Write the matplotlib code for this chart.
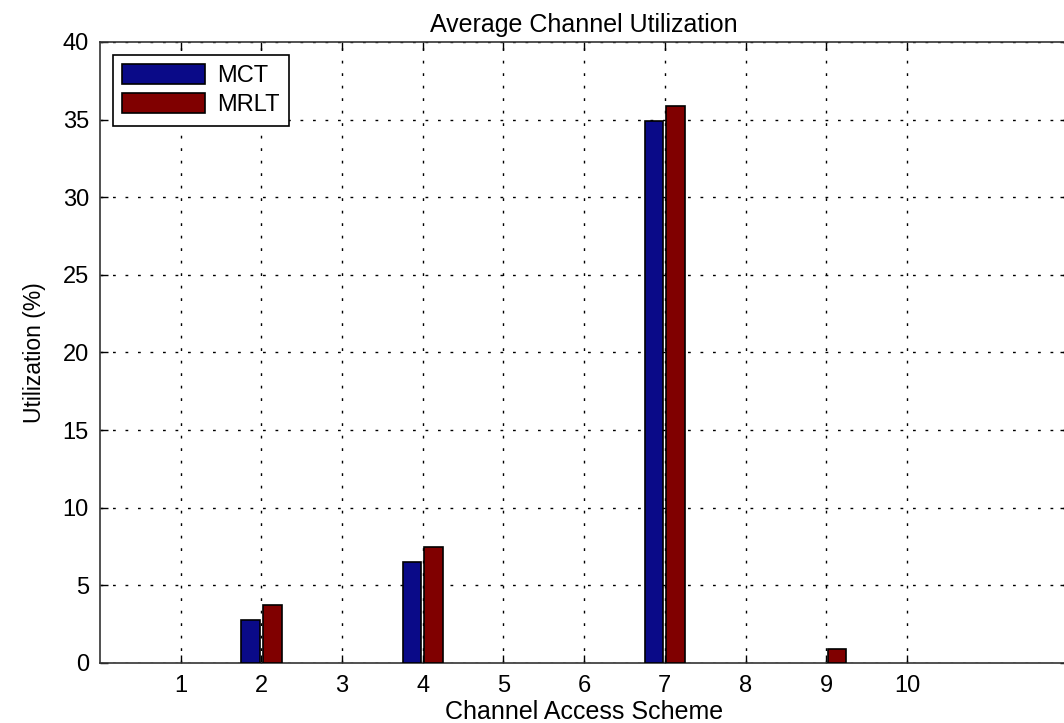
import numpy as np
import matplotlib
matplotlib.use("Agg")
import matplotlib.pyplot as plt

plt.rcParams['font.family'] = ['Liberation Sans', 'DejaVu Sans']

# data
schemes = [1, 2, 3, 4, 5, 6, 7, 8, 9, 10]
mct = [0, 2.77, 0, 6.52, 0, 0, 34.9, 0, 0, 0]
mrlt = [0, 3.74, 0, 7.47, 0, 0, 35.85, 0, 0.9, 0]
series_names = ['MCT', 'MRLT']

fig = plt.figure(figsize=(10.64, 7.23), dpi=100)
ax = fig.add_axes([0.094, 0.083, 0.91, 0.859])

x = np.array(schemes)
w = 0.23
# zero-height bars are not drawn (MATLAB shows nothing for them)
for vals, off, col, name in [(mct, -0.135, '#0a0a88', series_names[0]),
                             (mrlt, 0.135, '#800000', series_names[1])]:
    v = np.array(vals)
    keep = v > 0
    ax.bar(x[keep] + off, v[keep], w, color=col, edgecolor='black',
           linewidth=1.2, label=name, zorder=3)

ax.set_xlim(0, 12)
ax.set_ylim(0, 40)
ax.set_xticks(schemes)
ax.set_yticks(np.arange(0, 41, 5))
ax.tick_params(direction='in', top=True, right=True, labelsize=17, length=6,
               width=1, pad=9)
ax.tick_params(axis='y', pad=8)
ax.grid(True, linestyle=(0, (2, 7)), color='black', linewidth=1.0, zorder=0)
for s in ax.spines.values():
    s.set_linewidth(1.2)
    s.set_color('#333333')

ax.set_title('Average Channel Utilization', fontsize=18, pad=7)
ax.set_xlabel('Channel Access Scheme', fontsize=18, labelpad=2)
ax.set_ylabel('Utilization (%)', fontsize=16.5, labelpad=12)

leg = ax.legend(loc='upper left', fontsize=17, fancybox=False, framealpha=1,
                edgecolor='black', handlelength=3.5, handleheight=0.9,
                borderaxespad=0.55, labelspacing=0.25, handletextpad=0.5,
                borderpad=0.4)
leg.get_frame().set_linewidth(1.2)

fig.savefig('out.png', dpi=100)
